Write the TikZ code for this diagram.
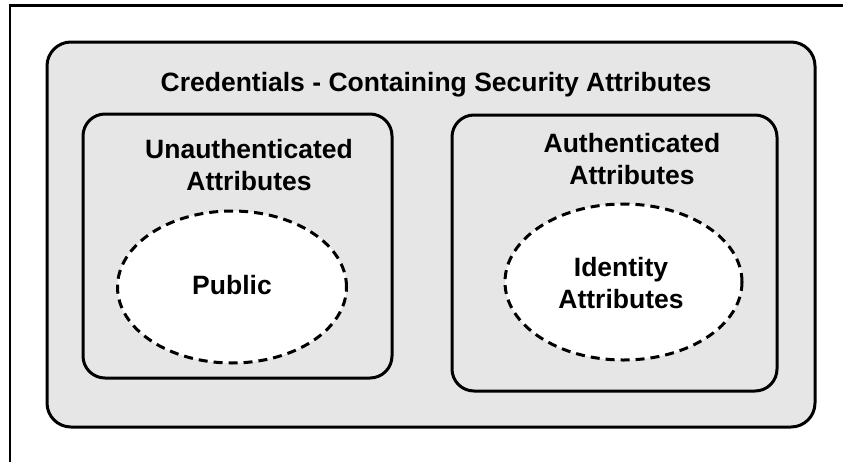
\documentclass[tikz,border=0pt]{standalone}
\usepackage{fontspec}
\setmainfont{Liberation Sans}
\usetikzlibrary{shapes.geometric}
\definecolor{boxgray}{HTML}{E6E6E6}
\tikzset{
  solidbox/.style={draw=black, line width=3pt, fill=boxgray, rounded corners=24pt},
  dashell/.style={draw=black, line width=3pt, fill=white, dash pattern=on 9pt off 6pt},
  lbl/.style={font=\fontsize{26.5}{31.5}\selectfont\bfseries, align=center, inner sep=0pt},
}
\begin{document}
\begin{tikzpicture}[x=1pt,y=-1pt]
\useasboundingbox (0,0) rectangle (843,461);
\draw[line width=2.5pt] (10,470) -- (10,5.5) -- (850,5.5);
\draw[solidbox] (47,42) rectangle (815,427);
\node[lbl] (title) at (436,85) {Credentials - Containing Security Attributes};
\draw[solidbox, rounded corners=22pt] (83,114) rectangle (392,378);
\draw[solidbox, rounded corners=22pt] (452,115) rectangle (777,391);
\node[lbl] (unauth) at (249,165) {Unauthenticated\\Attributes};
\node[lbl] (auth) at (632,159) {Authenticated\\Attributes};
\node[dashell, ellipse, minimum width=229pt, minimum height=152pt, inner sep=0pt] (pub) at (232,287) {};
\node[lbl] (publbl) at (232,285) {Public};
\node[dashell, ellipse, minimum width=237pt, minimum height=156pt, inner sep=0pt] (idn) at (623.5,282) {};
\node[lbl] (idlbl) at (621,283) {Identity\\Attributes};
\end{tikzpicture}
\end{document}
